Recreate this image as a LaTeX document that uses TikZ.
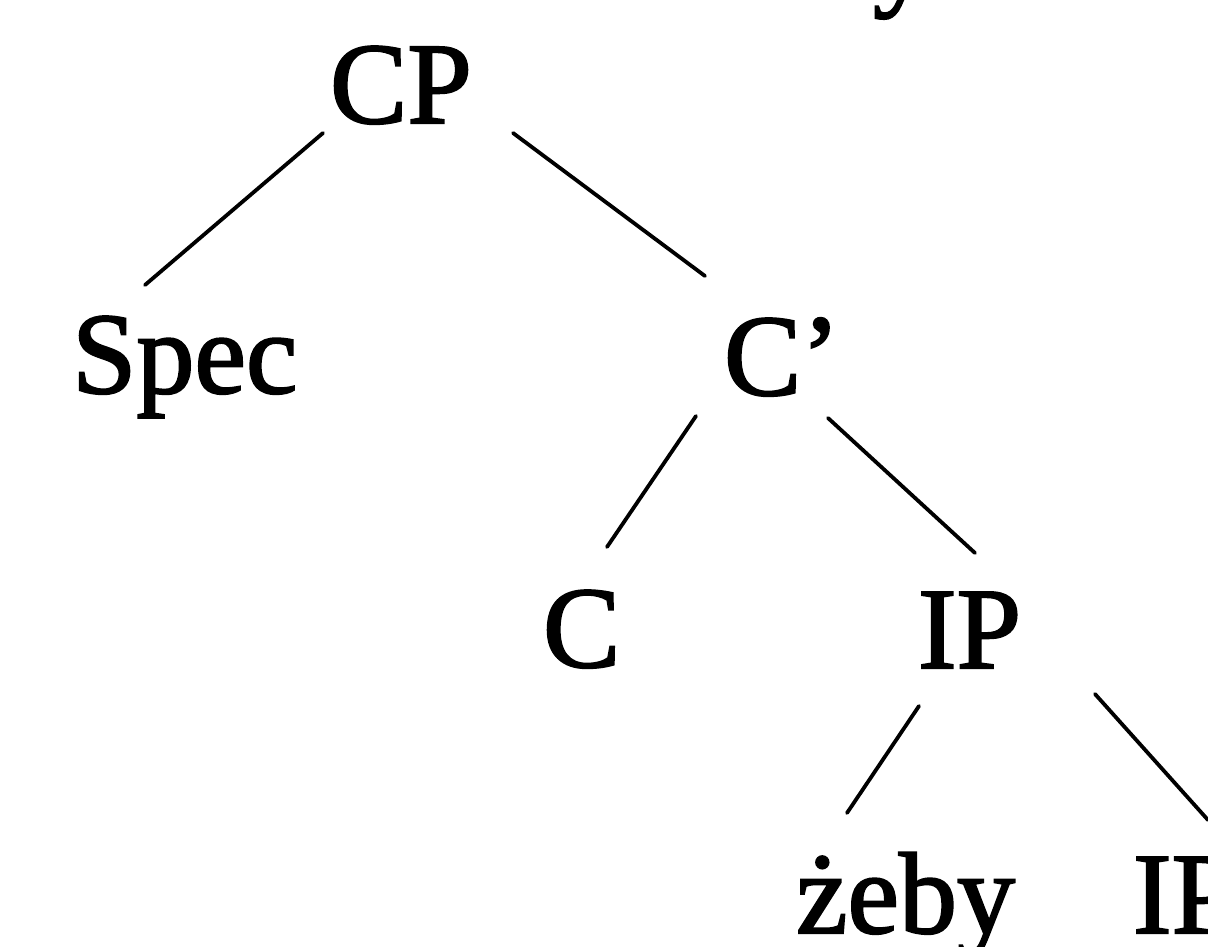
\documentclass[tikz,border=0pt]{standalone}
\usepackage{fontspec}
\setmainfont{Liberation Serif}
\newfontfamily\treefont{Liberation Serif}[FakeBold=1.8]
\usetikzlibrary{calc}
\begin{document}
\begin{tikzpicture}[x=1pt,y=-1pt,
  lbl/.style={anchor=base west,inner sep=0pt,outer sep=0pt,
    font=\treefont\fontsize{116}{120}\selectfont},
  branch/.style={line width=3.8pt,line cap=round}]
\useasboundingbox (0,0) rectangle (1208,947);
\clip (0,0) rectangle (1208,947);
% tree labels
\node[lbl] (prev) at (873,-6) {y};
\node[lbl] (cp)   at (330,123) {CP};
\node[lbl] (spec) at (72,393) {Spec};
\node[lbl] (cbar) at (724,395) {C’};
\node[lbl] (c)    at (543,667) {C};
\node[lbl] (ip)   at (918,668) {IP};
\node[lbl] (zeby) at (796,933) {żeby};
\node[lbl] (ip2)  at (1133,933) {IP};
% branches
\draw[branch] ($(cp.base west)+(-7,10)$)    -- ($(spec.base west)+(73,-108)$);
\draw[branch] ($(cp.base west)+(183,10)$)   -- ($(cbar.base west)+(-19,-119)$);
\draw[branch] ($(cbar.base west)+(-28,21)$) -- ($(c.base west)+(64,-120)$);
\draw[branch] ($(cbar.base west)+(104,23)$) -- ($(ip.base west)+(57,-115)$);
\draw[branch] ($(ip.base west)+(1,38)$)     -- ($(zeby.base west)+(51,-120)$);
\draw[branch] ($(ip.base west)+(177,26)$)   -- ($(ip2.base west)+(75,-113)$);
\end{tikzpicture}
\end{document}
